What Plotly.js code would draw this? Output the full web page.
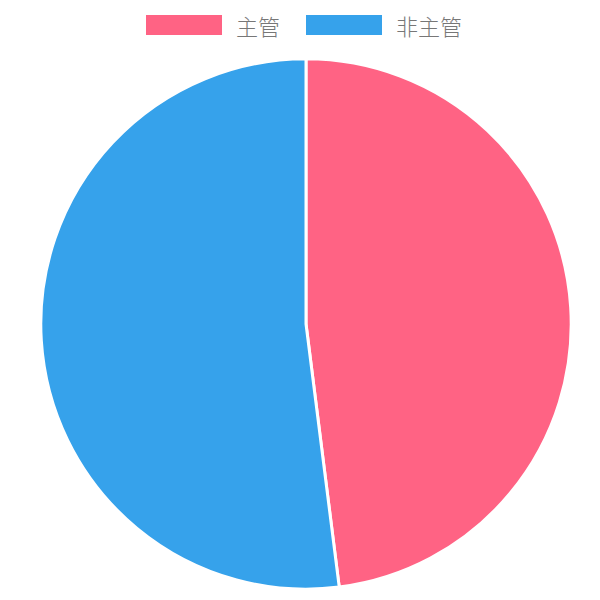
<!DOCTYPE html>
<html>
<head>
<meta charset="utf-8">
<script src="https://cdn.plot.ly/plotly-3.0.1.min.js"></script>
<style>
  html, body { margin: 0; padding: 0; background: #fff; }
  #chart { width: 600px; height: 600px; }
</style>
</head>
<body>
<div id="chart"></div>
<script>
// categories and values of the pie
const labels = ['主管', '非主管'];
const values = [48, 52];
const colors = ['#FF6384', '#36A2EB'];

const fontFamily = '"Noto Sans CJK SC", "Noto Sans", sans-serif';

const data = [{
  type: 'pie',
  labels: labels,
  values: values,
  marker: { colors: colors, line: { color: '#fff', width: 3 } },
  sort: false,
  direction: 'clockwise',
  rotation: 0,
  textinfo: 'none',
  hoverinfo: 'label+value',
  domain: { x: [0.065, 0.955], y: [0.018, 0.902] },
  showlegend: false
}];

// legend drawn by hand so the boxes look like the original (wide rectangles)
const shapes = [];
const annotations = [];
const boxW = 76 / 600, boxH = 20 / 600;
const legendY = 1 - 25 / 600;
const starts = [146 / 600, 306 / 600];
labels.forEach((lab, i) => {
  const x0 = starts[i];
  shapes.push({
    type: 'rect', xref: 'paper', yref: 'paper',
    x0: x0, x1: x0 + boxW, y0: legendY - boxH / 2, y1: legendY + boxH / 2,
    fillcolor: colors[i], line: { width: 0 }
  });
  annotations.push({
    xref: 'paper', yref: 'paper', x: x0 + boxW + 12 / 600, y: legendY,
    xanchor: 'left', yanchor: 'middle', showarrow: false,
    text: lab, font: { size: 22, color: '#777', family: fontFamily, weight: 300 }
  });
});

const layout = {
  width: 600,
  height: 600,
  margin: { l: 0, r: 0, t: 0, b: 0 },
  paper_bgcolor: '#fff',
  plot_bgcolor: '#fff',
  showlegend: false,
  shapes: shapes,
  annotations: annotations
};

Plotly.newPlot('chart', data, layout, { displayModeBar: false, staticPlot: true });
</script>
</body>
</html>
